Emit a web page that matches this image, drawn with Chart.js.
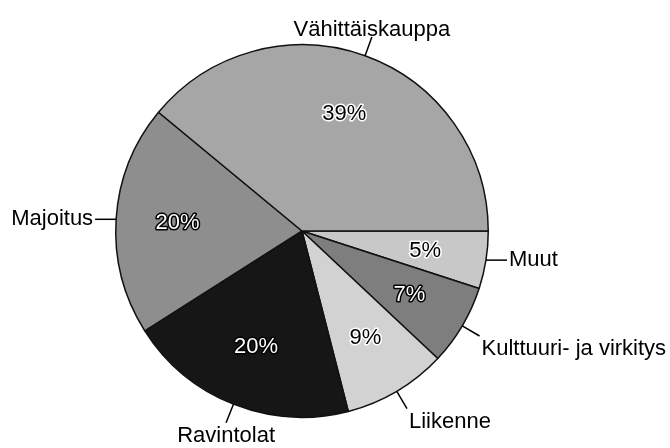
<!DOCTYPE html>
<html>
<head>
<meta charset="utf-8">
<script src="https://cdn.jsdelivr.net/npm/chart.js@4"></script>
<style>
  html, body { margin: 0; padding: 0; background: #fff; }
  #wrap { width: 670px; height: 448px; }
</style>
</head>
<body>
<div id="wrap"><canvas id="canvas" width="670" height="448"></canvas></div>
<script>
const canvas = document.getElementById('canvas');
const ctx = canvas.getContext('2d');

// clockwise from 3 o'clock
const labels = ['Muut', 'Kulttuuri- ja virkitys', 'Liikenne', 'Ravintolat', 'Majoitus', 'Vähittäiskauppa'];
const osuudet = [5, 7, 9, 20, 20, 39];
const varit = ['#c8c8c8', '#7e7e7e', '#d2d2d2', '#161616', '#8e8e8e', '#a6a6a6'];
const tummat = [false, true, false, true, true, false];

const FONT = '22px "Liberation Sans", Arial, sans-serif';

// percent labels + leader lines, Excel style
const pieLabels = {
  id: 'pieLabels',
  afterDatasetsDraw(chart) {
    const c = chart.ctx;
    const meta = chart.getDatasetMeta(0);
    c.save();
    c.font = FONT;
    c.lineJoin = 'round';
    meta.data.forEach((arc, i) => {
      const { x, y, startAngle, endAngle, outerRadius } = arc.getProps(
        ['x', 'y', 'startAngle', 'endAngle', 'outerRadius'], true);
      const mid = (startAngle + endAngle) / 2;
      const cos = Math.cos(mid);
      const sin = Math.sin(mid);

      // percent inside
      const pr = outerRadius * 0.67;
      const px = x + pr * cos;
      const py = y + pr * sin;
      const txt = osuudet[i] + '%';
      c.textAlign = 'center';
      c.textBaseline = 'middle';
      c.lineWidth = 3;
      c.strokeStyle = tummat[i] ? '#000' : '#fff';
      c.strokeText(txt, px, py);
      c.fillStyle = tummat[i] ? '#fff' : '#000';
      c.fillText(txt, px, py);

      // leader line
      const sx = x + outerRadius * cos;
      const sy = y + outerRadius * sin;
      let ex, ey;
      const horiz = Math.abs(cos) > 0.9;
      if (horiz) {
        ex = sx + Math.sign(cos) * 21;
        ey = sy;
      } else {
        ex = x + (outerRadius + 20) * cos;
        ey = y + (outerRadius + 20) * sin;
      }
      c.beginPath();
      c.moveTo(sx, sy);
      c.lineTo(ex, ey);
      c.lineWidth = 1.5;
      c.strokeStyle = '#000';
      c.stroke();

      // category text
      c.fillStyle = '#000';
      let tx = ex, ty = ey;
      if (horiz) {
        c.textAlign = cos > 0 ? 'left' : 'right';
        c.textBaseline = 'middle';
        tx = ex + Math.sign(cos) * 2;
      } else if (sin < 0) {
        c.textAlign = 'center';
        c.textBaseline = 'alphabetic';
        ty = ey - 1;
      } else {
        c.textBaseline = 'top';
        ty = ey + 2;
        if (Math.abs(cos) < 0.45) {
          c.textAlign = 'center';
        } else {
          c.textAlign = cos > 0 ? 'left' : 'right';
          tx = ex + Math.sign(cos) * 2;
        }
      }
      c.fillText(labels[i], tx, ty);
    });
    c.restore();
  },
};

const chart = new Chart(ctx, {
  type: 'pie',
  data: {
    labels: labels,
    datasets: [
      {
        data: osuudet,
        backgroundColor: varit,
        borderColor: '#111',
        borderWidth: 1.5,
      },
    ],
  },
  options: {
    responsive: false,
    animation: false,
    rotation: 90,
    layout: { padding: { top: 44, bottom: 30, left: 115, right: 181 } },
    plugins: {
      legend: { display: false },
      tooltip: { enabled: false },
    },
  },
  plugins: [pieLabels],
});
</script>
</body>
</html>
